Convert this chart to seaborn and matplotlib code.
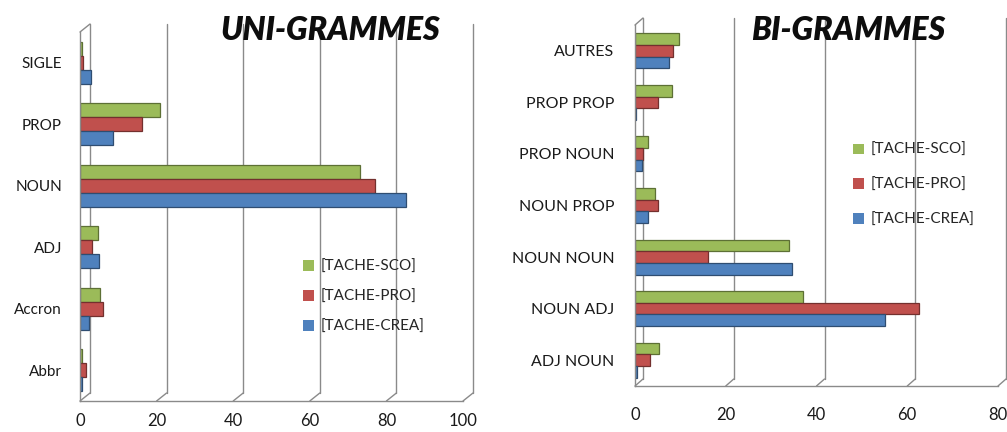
import matplotlib
matplotlib.use("Agg")
import numpy as np
import pandas as pd
import matplotlib.pyplot as plt
import matplotlib.colors as mcolors
import seaborn as sns
from matplotlib.patches import Patch
from matplotlib.lines import Line2D
from matplotlib.transforms import ScaledTranslation, blended_transform_factory

# ---- data -------------------------------------------------------------
series = ["[TACHE-SCO]", "[TACHE-PRO]", "[TACHE-CREA]"]
colors = ["#9BBB59", "#C0504D", "#4F81BD"]

uni_categories = ["SIGLE", "PROP", "NOUN", "ADJ", "Accron", "Abbr"]
uni_sco = [0.5, 21, 73, 4.6, 5.2, 0.6]
uni_pro = [0.8, 16.2, 77, 3.2, 6.1, 1.5]
uni_crea = [2.8, 8.6, 85, 5.0, 2.4, 0.6]
uni_ticks = [0, 20, 40, 60, 80, 100]

bi_categories = ["AUTRES", "PROP PROP", "PROP NOUN", "NOUN PROP",
                 "NOUN NOUN", "NOUN ADJ", "ADJ NOUN"]
bi_sco = [9.8, 8.1, 2.8, 4.4, 34, 37, 5.3]
bi_pro = [8.3, 5.0, 1.7, 5.0, 16, 62.5, 3.3]
bi_crea = [7.5, 0.3, 1.5, 2.9, 34.7, 55, 0.5]
bi_ticks = [0, 20, 40, 60, 80]

FONT = "Lato"
GRAY = "#8a8a8a"
DPI = 100


def long_table(categories, sco, pro, crea):
    frames = []
    for name, vals in zip(series, [sco, pro, crea]):
        frames.append(pd.DataFrame({"cat": categories, "val": vals, "series": name}))
    return pd.concat(frames, ignore_index=True)


def draw_panel(ax, categories, sco, pro, crea, ticks, depth, label_pad, tick_pad,
               label_size):
    df = long_table(categories, sco, pro, crea)
    sns.barplot(data=df, y="cat", x="val", hue="series", hue_order=series,
                order=categories, palette=colors, saturation=1, orient="h",
                width=0.68, ax=ax, legend=False)
    for p in ax.patches:
        fc = np.array(mcolors.to_rgb(p.get_facecolor()))
        p.set_edgecolor(tuple(fc * 0.6))
        p.set_linewidth(0.9)

    ax.set_xlim(ticks[0], ticks[-1])
    ax.set_xlabel("")
    ax.set_ylabel("")
    ax.set_xticks(ticks)
    ax.set_xticklabels([str(t) for t in ticks])

    n = len(categories)
    ax.set_yticks(np.arange(-0.5, n), minor=True)
    ax.tick_params(axis="y", which="major", length=0, pad=label_pad,
                   labelsize=label_size, labelcolor="#1a1a1a")
    ax.tick_params(axis="y", which="minor", length=4, color=GRAY, width=1)
    ax.tick_params(axis="x", length=4, color=GRAY, width=1, pad=tick_pad,
                   labelsize=12, labelcolor="#1a1a1a")
    for lab in ax.get_xticklabels() + ax.get_yticklabels():
        lab.set_fontfamily(FONT)

    for side in ["top", "right"]:
        ax.spines[side].set_visible(False)
    for side in ["left", "bottom"]:
        ax.spines[side].set_color(GRAY)
        ax.spines[side].set_linewidth(1)

    # back wall and floor of the 3-D frame
    dx, dy = depth
    fig = ax.figure
    base = blended_transform_factory(ax.transData, ax.transAxes)
    shift = ScaledTranslation(dx / DPI, dy / DPI, fig.dpi_scale_trans)
    back = base + shift
    for t in ticks:
        ax.add_line(Line2D([t, t], [0, 1], transform=back, color=GRAY,
                           lw=1, clip_on=False, zorder=0.5))
        # slanted segment joining front and back at the floor
        x0, y0 = base.transform((t, 0))
        fig.add_artist(Line2D([x0, x0 + dx], [y0, y0 + dy], transform=None,
                              color=GRAY, lw=1, clip_on=False, zorder=0.5))
    # top edge of the side wall
    x0, y0 = base.transform((ticks[0], 1))
    fig.add_artist(Line2D([x0, x0 + dx], [y0, y0 + dy], transform=None,
                          color=GRAY, lw=1, clip_on=False))


W, H = 1007, 432
fig = plt.figure(figsize=(W / DPI, H / DPI), dpi=DPI)
sns.set_style("white")

ax1 = fig.add_axes([80 / W, 1 - 401 / H, 383 / W, 369 / H])
ax2 = fig.add_axes([635 / W, 1 - 386 / H, 363 / W, 361 / H])

fig.canvas.draw()
draw_panel(ax1, uni_categories, uni_sco, uni_pro, uni_crea, uni_ticks,
           depth=(10, 8), label_pad=13, tick_pad=5, label_size=11)
draw_panel(ax2, bi_categories, bi_sco, bi_pro, bi_crea, bi_ticks,
           depth=(8, 7), label_pad=15, tick_pad=11, label_size=11.5)

title_kw = dict(fontsize=23, fontweight="heavy", fontstyle="italic",
                family=FONT, ha="center", va="center", color="#0d0d0d")
fig.text(330 / W, 1 - 30 / H, "UNI-GRAMMES", **title_kw)
fig.text(848 / W, 1 - 30 / H, "BI-GRAMMES", **title_kw)

handles = [Patch(facecolor=c, edgecolor="none", label=s) for s, c in zip(series, colors)]
leg_kw = dict(frameon=False, handlelength=0.7, handleheight=0.7,
              handletextpad=0.45, borderpad=0, borderaxespad=0,
              prop={"family": FONT, "size": 11}, loc="center left")
fig.legend(handles=handles, bbox_to_anchor=(303 / W, 1 - 297 / H),
           labelspacing=1.05, **leg_kw)
fig.legend(handles=handles, bbox_to_anchor=(853 / W, 1 - 185 / H),
           labelspacing=1.35, **leg_kw)

fig.savefig("out.png", dpi=DPI, facecolor="white")
